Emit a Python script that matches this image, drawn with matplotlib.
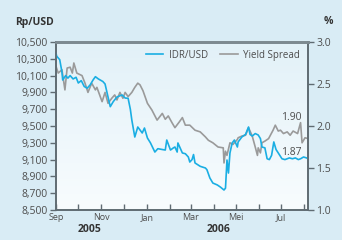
import matplotlib
matplotlib.use("Agg")
import matplotlib.pyplot as plt
import numpy as np
import pandas as pd
from matplotlib.colors import LinearSegmentedColormap

plt.rcParams['font.family'] = ['Open Sans', 'DejaVu Sans']

base_date = "2005-09-01"
# IDR/USD (days since base date, value)
idr_days = [0, 1, 5, 8, 9, 13, 16, 19, 23, 27, 30, 34, 38, 42, 46, 50, 53, 57, 59, 63,
            66, 70, 73, 77, 82, 86, 89, 93, 97, 100, 102, 106, 110, 116, 119, 123, 127,
            133, 137, 143, 147, 149, 154, 158, 160, 163, 164, 170, 174, 178, 180, 183,
            185, 187, 194, 201, 203, 207, 211, 217, 221, 226, 228, 230, 232, 234, 237,
            240, 244, 245, 250, 255, 259, 261, 264, 268, 272, 275, 277, 281, 284, 287,
            290, 293, 296, 299, 304, 308, 314, 318, 322, 326, 329, 333, 337, 339]
idr_vals = [10365, 10330, 10290, 10143, 10048, 10100, 10070, 10100, 10060, 10080, 10012,
            10040, 9970, 9950, 9990, 10050, 10087, 10060, 10050, 10030, 10000, 9845, 9730,
            9790, 9845, 9860, 9869, 9833, 9830, 9700, 9571, 9369, 9488, 9417, 9476, 9357,
            9300, 9190, 9230, 9220, 9214, 9333, 9214, 9240, 9250, 9190, 9298, 9179, 9170,
            9131, 9071, 9100, 9160, 9060, 9020, 9000, 8980, 8881, 8821, 8798, 8774, 8738,
            8760, 9095, 8940, 9179, 9298, 9333, 9250, 9310, 9369, 9400, 9488, 9400, 9380,
            9410, 9393, 9350, 9250, 9240, 9110, 9100, 9150, 9310, 9220, 9179, 9110, 9100,
            9120, 9110, 9120, 9100, 9110, 9131, 9120, 9110]

# Yield spread (%)
ys_days = [0, 3, 8, 12, 15, 19, 22, 24, 28, 35, 39, 43, 48, 53, 55, 62, 66, 70, 75, 79,
           82, 86, 90, 93, 97, 102, 106, 110, 113, 117, 123, 129, 136, 143, 147, 151, 156,
           160, 166, 170, 174, 180, 187, 194, 201, 205, 211, 218, 225, 226, 228, 230, 234,
           238, 244, 245, 250, 255, 259, 264, 268, 271, 272, 275, 277, 281, 286, 292, 295,
           299, 302, 306, 311, 315, 319, 325, 329, 331, 335, 339]
ys_vals = [2.71, 2.63, 2.67, 2.43, 2.69, 2.70, 2.63, 2.75, 2.63, 2.60, 2.51, 2.40, 2.51,
           2.43, 2.46, 2.29, 2.40, 2.27, 2.33, 2.37, 2.31, 2.40, 2.33, 2.40, 2.35, 2.40,
           2.46, 2.51, 2.49, 2.42, 2.27, 2.19, 2.07, 2.15, 2.08, 2.12, 2.04, 1.98, 2.05,
           2.10, 2.01, 2.01, 1.95, 1.93, 1.87, 1.83, 1.80, 1.75, 1.74, 1.56, 1.70, 1.65,
           1.80, 1.78, 1.84, 1.86, 1.88, 1.89, 1.98, 1.88, 1.75, 1.65, 1.74, 1.68, 1.80,
           1.82, 1.85, 1.95, 2.01, 1.94, 1.95, 1.91, 1.93, 1.89, 1.94, 1.91, 2.04, 1.80,
           1.86, 1.85]

month_labels = ["Sep", "", "Nov", "", "Jan", "", "Mar", "", "Mei", "", "Jul", ""]
left_ticks = [8500, 8700, 8900, 9100, 9300, 9500, 9700, 9900, 10100, 10300, 10500]
right_ticks = [1.0, 1.5, 2.0, 2.5, 3.0]

b = pd.Timestamp(base_date)
idr_x = b + pd.to_timedelta(idr_days, unit="D")
ys_x = b + pd.to_timedelta(ys_days, unit="D")

blue = "#1aaee3"
gray = "#9a9a9a"
txt = "#4d4d4d"
spine = "#5f6b72"

fig = plt.figure(figsize=(3.42, 2.40), dpi=100)
fig.patch.set_facecolor("#d9ecf5")
rect = [56/342, 30/240, 252/342, 168/240]

# background gradient axes
bg = fig.add_axes(rect, zorder=0)
grad = np.linspace(0, 1, 100).reshape(-1, 1)
cmap = LinearSegmentedColormap.from_list("bg", ["#f8fcfe", "#e2f1f8"])
bg.imshow(grad, aspect="auto", cmap=cmap, origin="lower", extent=[0, 1, 0, 1])
bg.set_axis_off()

ax2 = fig.add_axes(rect, zorder=1)
ax = fig.add_axes(rect, zorder=2, sharex=ax2)
ax2.yaxis.tick_right()
ax2.yaxis.set_label_position("right")

ax2.plot(ys_x, ys_vals, color=gray, lw=1.2, label="Yield Spread")
ax.plot(idr_x, idr_vals, color=blue, lw=1.2, label="IDR/USD")
ax.patch.set_visible(False)
ax2.patch.set_visible(False)

xmin = b
xmax = pd.Timestamp("2006-08-06")
ax.set_xlim(xmin, xmax)
ax.set_ylim(8500, 10500)
ax2.set_ylim(1.0, 3.0)

ax.set_yticks(left_ticks)
ax.set_yticklabels([f"{v:,}" for v in left_ticks])
ax2.set_yticks(right_ticks)
ax2.set_yticklabels([f"{v:.1f}" for v in right_ticks])

month_starts = pd.date_range("2005-09-01", "2006-08-01", freq="MS")
ax.set_xticks(month_starts)
ax.set_xticklabels(month_labels)
ax2.tick_params(axis="x", bottom=False, labelbottom=False)

ax.tick_params(axis="x", direction="in", length=4, width=1, color=spine,
               labelsize=6.5, labelcolor=txt, pad=2)
ax.tick_params(axis="y", direction="out", length=4, width=1, color=spine,
               labelsize=7.5, labelcolor=txt, pad=2)
ax2.tick_params(axis="y", direction="out", length=4, width=1, color=spine,
                labelsize=7.5, labelcolor=txt, pad=2)

for a in (ax, ax2):
    for s in ("left", "right", "bottom"):
        a.spines[s].set_color(spine)
        a.spines[s].set_linewidth(1.2)
    a.spines["top"].set_color("#7d8a91")
    a.spines["top"].set_linewidth(2)

fig.text(15/342, 1 - 22/240, "Rp/USD", fontsize=7.5, fontweight="bold", color="#333333",
         va="center", ha="left")
fig.text(328/342, 1 - 22/240, "%", fontsize=7.5, fontweight="bold", color="#333333",
         va="center", ha="center")
fig.text(90/342, 1 - 229/240, "2005", fontsize=7.5, fontweight="bold", color="#333333",
         va="center", ha="center")
fig.text(219/342, 1 - 229/240, "2006", fontsize=7.5, fontweight="bold", color="#333333",
         va="center", ha="center")

ax2.text(pd.Timestamp("2006-07-15"), 2.1, "1.90", fontsize=7.5, color=txt, ha="center", va="center")
ax2.text(pd.Timestamp("2006-07-15"), 1.68, "1.87", fontsize=7.5, color=txt, ha="center", va="center")

h1, l1 = ax.get_legend_handles_labels()
h2, l2 = ax2.get_legend_handles_labels()
ax.legend(h1 + h2, l1 + l2, loc="upper right", ncol=2, frameon=False,
          fontsize=7, handlelength=1.8, columnspacing=1.2, handletextpad=0.6,
          borderaxespad=0.4, labelcolor=txt)

fig.savefig("out.png", dpi=100, facecolor=fig.get_facecolor())
